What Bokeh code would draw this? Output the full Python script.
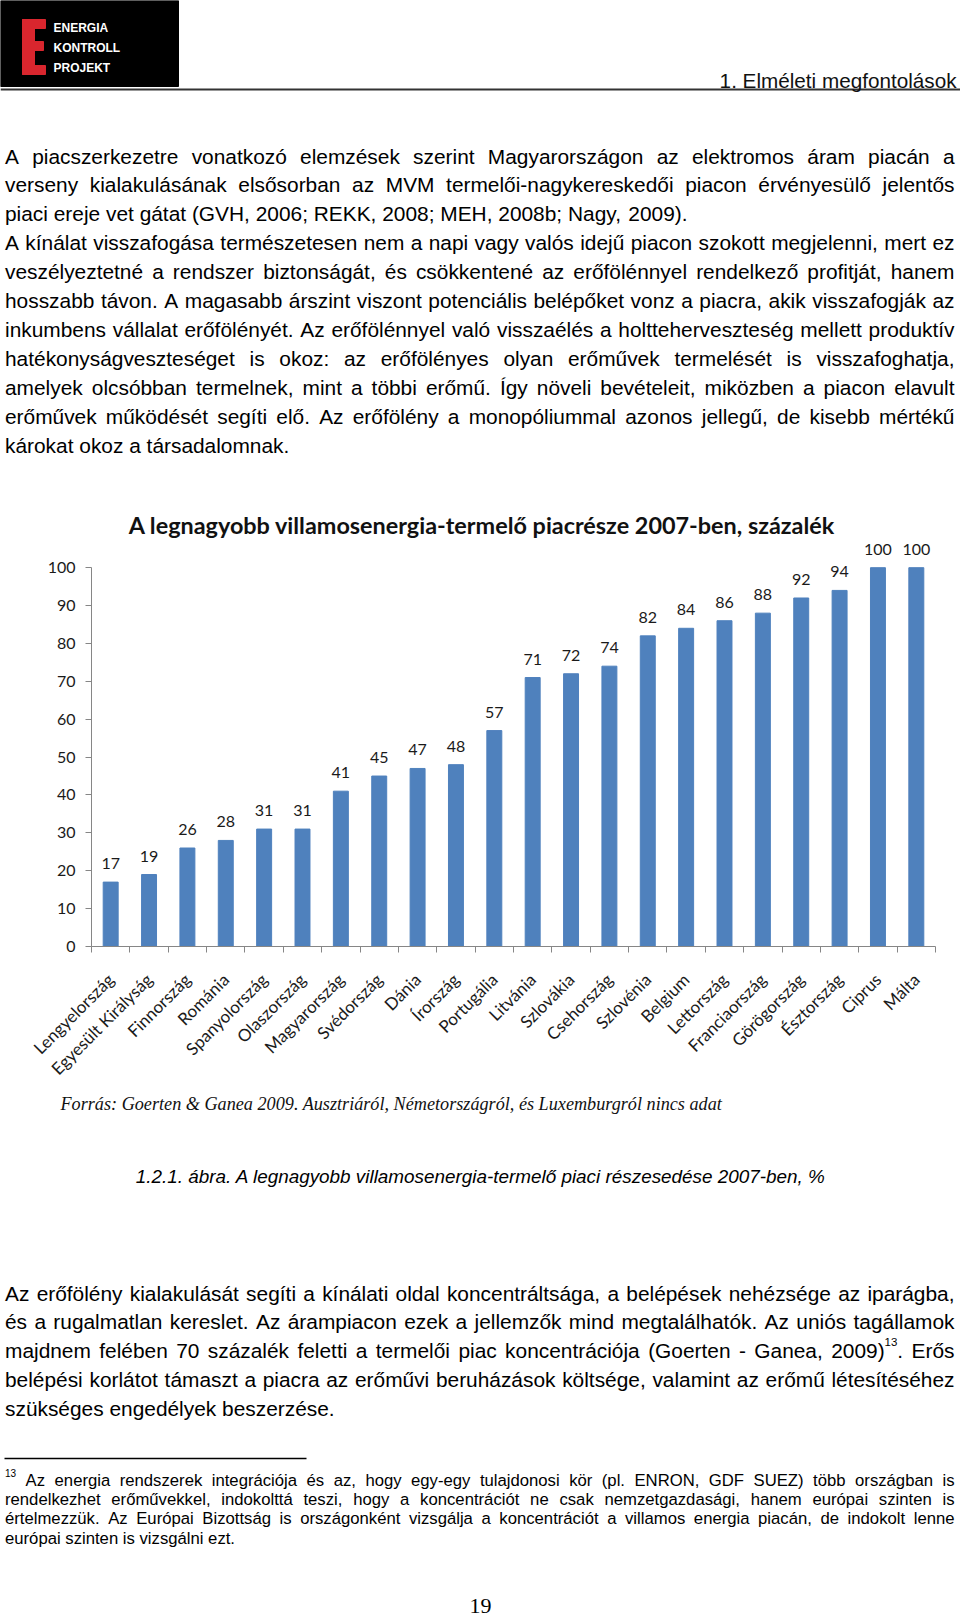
import math
import numpy as np
from bokeh.plotting import figure
from bokeh.models import ColumnDataSource, Range1d, FixedTicker, LinearAxis, LabelSet, Label
from bokeh.layouts import column
from bokeh.embed import file_html
from bokeh.resources import INLINE
from bokeh.core.properties import value

# ---------------- data ----------------
countries = ["Lengyelország", "Egyesült Királyság", "Finnország", "Románia",
             "Spanyolország", "Olaszország", "Magyarország", "Svédország",
             "Dánia", "Írország", "Portugália", "Litvánia", "Szlovákia",
             "Csehország", "Szlovénia", "Belgium", "Lettország",
             "Franciaország", "Görögország", "Észtország", "Ciprus", "Málta"]
shares = [17, 19, 26, 28, 31, 31, 41, 45, 47, 48, 57, 71, 72, 74, 82, 84,
          86, 88, 92, 94, 100, 100]
y_ticks = [0, 10, 20, 30, 40, 50, 60, 70, 80, 90, 100]
chart_title = "A legnagyobb villamosenergia-termelő piacrésze 2007-ben, százalék"
source_note = "Forrás: Goerten & Ganea 2009. Ausztriáról, Németországról, és Luxemburgról nincs adat"
caption = "1.2.1. ábra. A legnagyobb villamosenergia-termelő piaci részesedése 2007-ben, %"
header_text = "1. Elméleti megfontolások"
logo_lines = ["ENERGIA", "KONTROLL", "PROJEKT"]
page_number = "19"

para_top = [
    ("A piacszerkezetre vonatkozó elemzések szerint Magyarországon az elektromos áram piacán a", True),
    ("verseny kialakulásának elsősorban az MVM termelői-nagykereskedői piacon érvényesülő jelentős", True),
    ("piaci ereje vet gátat (GVH, 2006; REKK, 2008; MEH, 2008b; Nagy, 2009).", False),
    ("A kínálat visszafogása természetesen nem a napi vagy valós idejű piacon szokott megjelenni, mert ez", True),
    ("veszélyeztetné a rendszer biztonságát, és csökkentené az erőfölénnyel rendelkező profitját, hanem", True),
    ("hosszabb távon. A magasabb árszint viszont potenciális belépőket vonz a piacra, akik visszafogják az", True),
    ("inkumbens vállalat erőfölényét. Az erőfölénnyel való visszaélés a holtteherveszteség mellett produktív", True),
    ("hatékonyságveszteséget is okoz: az erőfölényes olyan erőművek termelését is visszafoghatja,", True),
    ("amelyek olcsóbban termelnek, mint a többi erőmű. Így növeli bevételeit, miközben a piacon elavult", True),
    ("erőművek működését segíti elő. Az erőfölény a monopóliummal azonos jellegű, de kisebb mértékű", True),
    ("károkat okoz a társadalomnak.", False),
]
para_bottom = [
    ("Az erőfölény kialakulását segíti a kínálati oldal koncentráltsága, a belépések nehézsége az iparágba,", True),
    ("és a rugalmatlan kereslet. Az árampiacon ezek a jellemzők mind megtalálhatók. Az uniós tagállamok", True),
    ("majdnem felében 70 százalék feletti a termelői piac koncentrációja (Goerten - Ganea, 2009)^13^. Erős", True),
    ("belépési korlátot támaszt a piacra az erőművi beruházások költsége, valamint az erőmű létesítéséhez", True),
    ("szükséges engedélyek beszerzése.", False),
]
footnote = [
    ("^13^ Az energia rendszerek integrációja és az, hogy egy-egy tulajdonosi kör (pl. ENRON, GDF SUEZ) több országban is", True),
    ("rendelkezhet erőművekkel, indokolttá teszi, hogy a koncentrációt ne csak nemzetgazdasági, hanem európai szinten is", True),
    ("értelmezzük. Az Európai Bizottság is országonként vizsgálja a koncentrációt a villamos energia piacán, de indokolt lenne", True),
    ("európai szinten is vizsgálni ezt.", False),
]

# ---------------- font metrics (Arial / Times italic, per 1000 em) ----------------
ARIAL = {}
for c, w in zip("abcdefghijklmnopqrstuvwxyz",
                [556, 556, 500, 556, 556, 278, 556, 556, 222, 222, 500, 222, 833,
                 556, 556, 556, 556, 333, 500, 278, 556, 500, 722, 500, 500, 500]):
    ARIAL[c] = w
for c, w in zip("ABCDEFGHIJKLMNOPQRSTUVWXYZ",
                [667, 667, 722, 722, 667, 611, 778, 722, 278, 500, 667, 556, 833,
                 722, 778, 667, 778, 722, 667, 611, 722, 667, 944, 667, 667, 611]):
    ARIAL[c] = w
for c, w in zip("áéíóöőúüűÁÉÍÓÖŐÚÜŰ",
                [556, 556, 278, 556, 556, 556, 556, 556, 556,
                 667, 667, 278, 778, 778, 778, 722, 722, 722]):
    ARIAL[c] = w
for c in "0123456789":
    ARIAL[c] = 556
ARIAL.update({" ": 278, ".": 278, ",": 278, ";": 278, ":": 278, "(": 333,
              ")": 333, "-": 333, "%": 889, "&": 667})

TIMES_I = {}
for c, w in zip("abcdefghijklmnopqrstuvwxyz",
                [500, 500, 444, 500, 444, 278, 500, 500, 278, 278, 444, 278, 722,
                 500, 500, 500, 500, 389, 389, 278, 500, 444, 667, 444, 444, 389]):
    TIMES_I[c] = w
for c, w in zip("ABCDEFGHIJKLMNOPQRSTUVWXYZ",
                [611, 611, 667, 722, 611, 611, 722, 722, 333, 444, 667, 556, 833,
                 667, 722, 611, 722, 611, 500, 556, 722, 611, 833, 611, 556, 556]):
    TIMES_I[c] = w
for c, w in zip("áéíóöőúüűÉ", [500, 444, 278, 500, 500, 500, 500, 500, 500, 611]):
    TIMES_I[c] = w
for c in "0123456789":
    TIMES_I[c] = 500
TIMES_I.update({" ": 250, ".": 250, ",": 250, ":": 333, "&": 778})


def emw(s, table=ARIAL):
    return sum(table.get(ch, 520) for ch in s) / 1000.0


S = 1.0                    # page scale (reference px -> screen px)
W = 960
H_TOP, H_CHART, H_BOT = 475, 615, 527
Y_TOP0 = 0.0
Y_CHART0 = H_TOP / S
Y_BOT0 = Y_CHART0 + H_CHART / S


def page_fig(h, y0):
    p = figure(width=W, height=h, x_range=Range1d(0, 960),
               y_range=Range1d(y0 + h / S, y0), output_backend="svg",
               toolbar_location=None, min_border=0, frame_align=False,
               x_axis_location=None, y_axis_location=None)
    p.grid.visible = False
    p.outline_line_color = None
    p.background_fill_color = "white"
    p.border_fill_color = "white"
    return p


class TextStore:
    def __init__(self):
        self.groups = {}

    def add(self, key, x, y, t):
        g = self.groups.setdefault(key, {"x": [], "y": [], "text": []})
        g["x"].append(x)
        g["y"].append(y)
        g["text"].append(t)

    def draw(self, p):
        for (font, size, style, color, align), d in self.groups.items():
            p.text(x="x", y="y", text="text", source=ColumnDataSource(d),
                   text_font=value(font), text_font_size=value(f"{size * S:.2f}px"),
                   text_font_style=value(style), text_color=color,
                   text_align=align, text_baseline="alphabetic")


def word_runs(word, size, sup_scale):
    segs = word.split("^")
    runs = []
    for i, sg in enumerate(segs):
        if sg == "":
            continue
        sup = (i % 2 == 1)
        sz = size * sup_scale if sup else size
        runs.append((sg, sz, sup, emw(sg) * sz))
    return runs


def place_paragraph(store, lines, y0, dy, left, right, size,
                    font="Liberation Sans", sup_scale=0.55, color="#000000"):
    for k, (line, justify) in enumerate(lines):
        words = [w for w in line.split(" ") if w]
        runs = [word_runs(w, size, sup_scale) for w in words]
        widths = [sum(r[3] for r in rr) for rr in runs]
        nat_gap = emw(" ") * size
        if justify and len(words) > 1:
            gap = (right - left - sum(widths)) / (len(words) - 1)
            gap = max(gap, 0.12 * size)
        else:
            gap = nat_gap
        y = y0 + k * dy
        x = left
        for rr, wd in zip(runs, widths):
            xx = x
            for (sg, sz, sup, ww) in rr:
                yy = y - 0.42 * size if sup else y
                store.add((font, round(sz, 2), "normal", color, "left"), xx, yy, sg)
                xx += ww
            x += wd + gap


LEFT, RIGHT = 4.5, 954.0
body_size = 682.5 / emw(para_top[2][0])

# ---------------- top page part ----------------
top = page_fig(H_TOP, Y_TOP0)
top.quad(left=[0], right=[178], top=[0], bottom=[86], color="black")
e_left = [22, 22, 22, 22]
e_right = [34, 45, 43, 45]
e_top = [19, 19, 41, 65]
e_bot = [74, 28, 50, 74]
top.quad(left=e_left, right=e_right, top=e_top, bottom=e_bot, color="#d9262e")
top.text(x=[53, 53, 53], y=[27, 47, 67], text=logo_lines,
         text_font=value("Liberation Sans"),
         text_font_style="bold", text_font_size=value(f"{12 * S:.2f}px"),
         text_color="white", text_baseline="middle", text_align="left")
top.segment(x0=[0], y0=[89], x1=[960], y1=[89], line_width=2, line_color="#333333")
hs = 237.0 / emw(header_text)
top.text(x=[956], y=[80], text=[header_text], text_font=value("Liberation Sans"),
         text_font_size=value(f"{hs * S:.2f}px"), text_color="#111111",
         text_align="right", text_baseline="alphabetic")
st_top = TextStore()
place_paragraph(st_top, para_top, 155.5, 28.9, LEFT, RIGHT, body_size)
st_top.draw(top)

# ---------------- chart ----------------
AX_L, AX_R, AX_Y0, AX_Y100 = 90.7, 935.0, 946.0, 567.0
Y_MAX = 118
n = len(countries)
px_per_x = (AX_R - AX_L) / n
px_per_y = (AX_Y0 - AX_Y100) / 100.0
frame_top_ref = AX_Y0 - Y_MAX * px_per_y
b_top = round((frame_top_ref - Y_CHART0) * S)
f_h = round((AX_Y0 - frame_top_ref) * S)
b_bot = H_CHART - b_top - f_h
b_left = round(AX_L * S)
f_w = round((AX_R - AX_L) * S)
b_right = W - b_left - f_w

ch = figure(width=W, height=H_CHART, x_range=Range1d(0, n), y_range=Range1d(0, Y_MAX),
            output_backend="svg", toolbar_location=None, x_axis_location=None,
            frame_align=False,
            min_border_left=b_left, min_border_right=b_right,
            min_border_top=b_top, min_border_bottom=b_bot)
ch.grid.visible = False
ch.outline_line_color = None
ch.background_fill_color = "white"
ch.border_fill_color = "white"

xs = [i + 0.5 for i in range(n)]
src = ColumnDataSource(dict(x=xs, top=shares, label=[str(v) for v in shares],
                            country=countries))
ch.vbar(x="x", top="top", bottom=0, width=0.39, source=src,
        fill_color="#4F81BD", line_color="#4F81BD")

ch.add_layout(LabelSet(x="x", y="top", text="label", source=src,
                       text_align="center", text_baseline="alphabetic",
                       y_offset=13, text_font=value("Lato"),
                       text_font_size=value(f"{16 * S:.2f}px"), text_color="#1a1a1a"))

axis_col = "#868686"
ya = ch.yaxis[0]
ya.ticker = FixedTicker(ticks=y_ticks)
ya.bounds = (0, 100)
ya.axis_line_color = axis_col
ya.major_tick_line_color = axis_col
ya.major_tick_out = 6
ya.major_tick_in = 0
ya.minor_tick_line_color = None
ya.major_label_standoff = 10
ya.major_label_text_font = "Lato"
ya.major_label_text_font_size = f"{16 * S:.2f}px"
ya.major_label_text_color = "#1a1a1a"

xa = LinearAxis(ticker=FixedTicker(ticks=xs, minor_ticks=list(range(n + 1))),
                major_label_overrides={float(x): c for x, c in zip(xs, countries)},
                major_label_orientation=math.pi / 4,
                major_tick_line_color=None, major_tick_out=0, major_tick_in=0,
                minor_tick_line_color=axis_col, minor_tick_out=6, minor_tick_in=0,
                axis_line_color=axis_col, major_label_standoff=24,
                major_label_text_font="Lato",
                major_label_text_font_size=f"{17 * S:.2f}px",
                major_label_text_color="#1a1a1a")
ch.add_layout(xa, "below")

ch.add_layout(Label(x=(481.5 - AX_L) / px_per_x, y=(AX_Y0 - 524.0) / px_per_y,
                    text=chart_title, text_align="center", text_baseline="alphabetic",
                    text_font="Lato", text_font_style="bold",
                    text_font_size=f"{23.4 * S:.2f}px", text_color="#111111"))

# ---------------- bottom page part ----------------
bot = page_fig(H_BOT, Y_BOT0)
src_size = 663.0 / emw(source_note, TIMES_I)
bot.text(x=[60], y=[1103.5], text=[source_note], text_font=value("Liberation Serif"),
         text_font_style="italic", text_font_size=value(f"{src_size * S:.2f}px"),
         text_color="#111111", text_align="left", text_baseline="alphabetic")
cap_size = 691.0 / emw(caption)
bot.text(x=[480.5], y=[1176], text=[caption], text_font=value("Liberation Sans"),
         text_font_style="italic", text_font_size=value(f"{cap_size * S:.2f}px"),
         text_color="#000000", text_align="center", text_baseline="alphabetic")
st_bot = TextStore()
place_paragraph(st_bot, para_bottom, 1292.5, 28.9, LEFT, RIGHT, body_size)
fn_size = 230.0 / emw(footnote[3][0])
place_paragraph(st_bot, footnote, 1480.0, 19.2, LEFT, RIGHT, fn_size, sup_scale=0.6)
st_bot.draw(bot)
bot.segment(x0=[4], y0=[1458], x1=[306], y1=[1458], line_width=1.3, line_color="#000000")
bot.text(x=[480], y=[1605], text=[page_number], text_font=value("Liberation Serif"),
         text_font_size=value(f"{22 * S:.2f}px"), text_color="#000000",
         text_align="center", text_baseline="alphabetic")

layout = column(top, ch, bot, spacing=0)
open("out.html", "w").write(file_html(layout, INLINE))
